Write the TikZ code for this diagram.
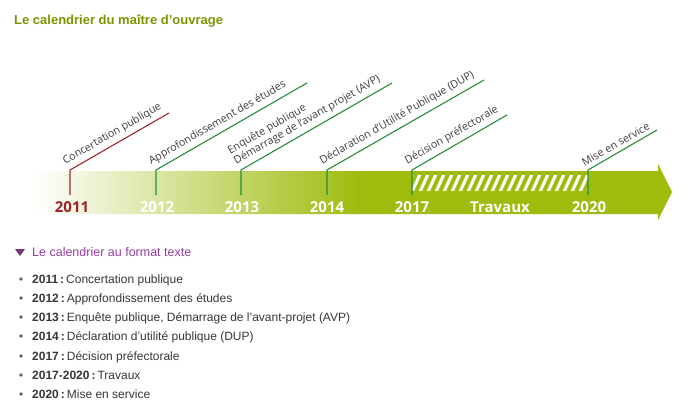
\documentclass[tikz,border=0pt]{standalone}
\usepackage{fontspec}
\setmainfont{Liberation Sans}
\newfontfamily\tlfont{Open Sans}
\usetikzlibrary{calc}
\definecolor{bandgreen}{RGB}{158,188,14}
\definecolor{titlegreen}{RGB}{122,150,0}
\definecolor{tickred}{RGB}{160,40,45}
\definecolor{tickgreen}{RGB}{40,140,60}
\definecolor{yearred}{RGB}{155,35,40}
\definecolor{labelgrey}{RGB}{60,60,60}
\definecolor{listgrey}{RGB}{55,55,55}
\definecolor{purpletext}{RGB}{150,60,165}
\definecolor{purpletri}{RGB}{115,55,115}
\colorlet{bandmid}{bandgreen!50}
\pgfdeclarehorizontalshading{bandshade}{100bp}{color(0bp)=(white); color(25bp)=(white); color(37.7bp)=(bandmid); color(50.5bp)=(bandgreen); color(100bp)=(bandgreen)}
\tikzset{
  tickline/.style={line width=1.1pt, tickgreen},
  redtick/.style={line width=1.1pt, tickred},
  lbl/.style={font=\tlfont\fontsize{10.7}{12}\selectfont, text=labelgrey, rotate=30, anchor=south west, inner sep=1.5pt, align=left},
  yearlbl/.style={font=\tlfont\bfseries\fontsize{15}{16}\selectfont, text=white, anchor=base},
  listitem/.style={font=\fontsize{12}{14}\selectfont, text=listgrey, anchor=base west, inner sep=0pt},
  bulletdot/.style={circle, fill=listgrey!80, inner sep=0pt, minimum size=3.6pt}
}
\begin{document}
\begin{tikzpicture}[x=1pt,y=-1pt]
\useasboundingbox (0,0) rectangle (688,420);
\fill[white] (0,0) rectangle (688,420);

% title
\node[font=\bfseries\fontsize{13}{15}\selectfont, text=titlegreen, anchor=base west, inner sep=0pt] (title) at (14,25) {Le calendrier du ma\^itre d’ouvrage};

% band
\shade[shading=bandshade] (35,171) -- (658,171) -- (658,164) -- (672,192) -- (658,220) -- (658,214) -- (35,214) -- cycle;

% hatch
\begin{scope}
\clip (412,175) rectangle (588,190);
\foreach \i in {404,412,...,596}{
  \draw[white, line width=3pt] (\i,192) -- (\i+8.5,173);
}
\end{scope}

% ticks
\coordinate (b2011) at (70,170);  \coordinate (d2011) at (70,195);  \coordinate (e2011) at (169,113);
\coordinate (b2012) at (156,170); \coordinate (d2012) at (156,195); \coordinate (e2012) at (307,83);
\coordinate (b2013) at (241,170); \coordinate (d2013) at (241,195); \coordinate (e2013) at (392,83);
\coordinate (b2014) at (327,170); \coordinate (d2014) at (327,195); \coordinate (e2014) at (484,80);
\coordinate (b2017) at (412,170); \coordinate (d2017) at (412,195); \coordinate (e2017) at (507,115);
\coordinate (b2020) at (588,170); \coordinate (d2020) at (588,195); \coordinate (e2020) at (657,130);

\draw[redtick] (d2011) -- (b2011) -- (e2011);
\foreach \y in {2012,2013,2014,2017,2020}{
  \draw[tickline] (d\y) -- (b\y) -- (e\y);
}

% labels
\node[lbl] (l2011) at ($(b2011)+(-4,-1)$) {Concertation publique};
\node[lbl] (l2012) at ($(b2012)+(-4,-1)$) {Approfondissement des \'etudes};
\node[lbl] (l2013) at ($(b2013)+(-4,-1)$) {Enqu\^ete publique\\D\'emarrage de l’avant projet (AVP)};
\node[lbl] (l2014) at ($(b2014)+(-4,-1)$) {D\'eclaration d’Utilit\'e Publique (DUP)};
\node[lbl] (l2017) at ($(b2017)+(-4,-1)$) {D\'ecision pr\'efectorale};
\node[lbl] (l2020) at ($(b2020)+(-4,-1)$) {Mise en service};

% years
\node[yearlbl, text=yearred] (y2011) at (72,212) {2011};
\node[yearlbl] (y2012) at (157,212) {2012};
\node[yearlbl] (y2013) at (242,212) {2013};
\node[yearlbl] (y2014) at (327,212) {2014};
\node[yearlbl] (y2017) at (412,212) {2017};
\node[yearlbl] (ytrav) at (500,212) {Travaux};
\node[yearlbl] (y2020) at (589,212) {2020};

% text section
\fill[purpletri] (15,249) -- (25,249) -- (20,256) -- cycle;
\node[font=\fontsize{12.5}{14}\selectfont, text=purpletext, anchor=base west, inner sep=0pt] (head) at (32,256) {Le calendrier au format texte};

\foreach \yy/\yr/\txt in {
  279/2011/{Concertation publique},
  298/2012/{Approfondissement des \'etudes},
  317/2013/{Enqu\^ete publique, D\'emarrage de l’avant-projet (AVP)},
  336/2014/{D\'eclaration d’utilit\'e publique (DUP)},
  356/2017/{D\'ecision pr\'efectorale},
  375/2017-2020/{Travaux},
  394/2020/{Mise en service}}{
  \node[bulletdot] at (21,\yy) {};
  \node[listitem] at (32,\yy+4.3) {\textbf{\yr\,:}\,\txt};
}
\end{tikzpicture}
\end{document}
